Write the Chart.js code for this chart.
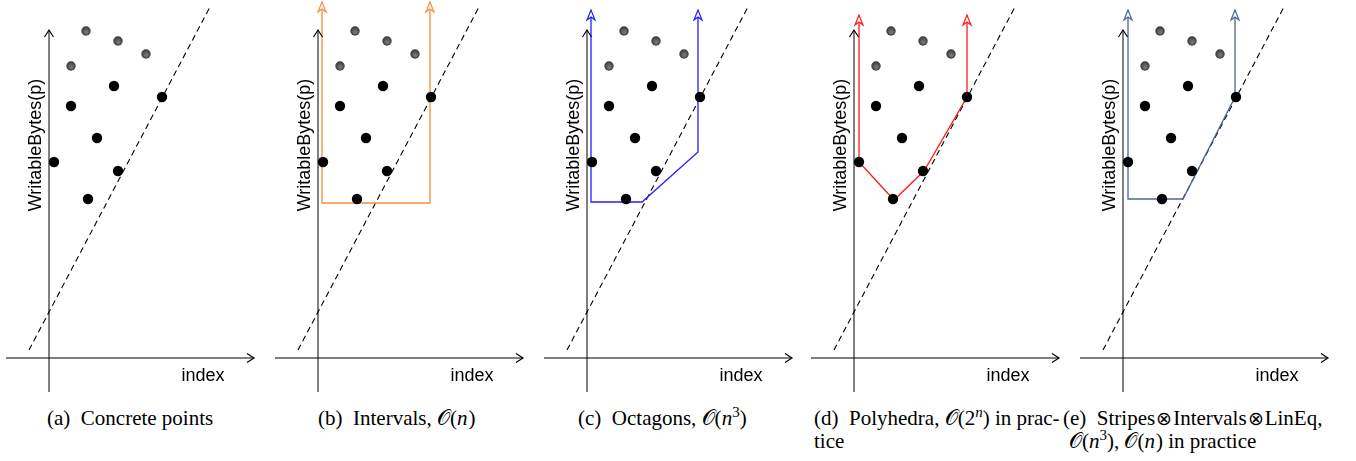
<!DOCTYPE html>
<html>
<head>
<meta charset="utf-8">
<script src="https://cdn.jsdelivr.net/npm/chart.js@4.4.0/dist/chart.umd.min.js"></script>
<style>
  body { margin: 0; background: #fff; width: 1356px; height: 461px; position: relative; overflow: hidden; }
  .panel { position: absolute; top: 0; width: 268px; height: 395px; }
  .cap { position: absolute; font: 21px "Liberation Serif", "Times New Roman", serif; white-space: nowrap; color: #000; line-height: 23px; }
  .cap sup { font-size: 15px; line-height: 0; vertical-align: 8px; }
  .cap .op { font-family: "DejaVu Sans", sans-serif; font-weight: 200; font-size: 19px; margin: 0 1px; }
  .cap .m { margin-right: 1px; }
</style>
</head>
<body>
<div class="panel" style="left:0px"><canvas id="pa"></canvas></div>
<div class="panel" style="left:269px"><canvas id="pb"></canvas></div>
<div class="panel" style="left:538px"><canvas id="pc"></canvas></div>
<div class="panel" style="left:805px"><canvas id="pd"></canvas></div>
<div class="panel" style="left:1074px"><canvas id="pe"></canvas></div>

<div class="cap" style="left:47px; top:407px">(a)&nbsp; Concrete points</div>
<div class="cap" style="left:318px; top:407px">(b)&nbsp; Intervals, 𝒪(<i class="m">n</i>)</div>
<div class="cap" style="left:578px; top:407px">(c)&nbsp; Octagons, 𝒪(<i>n</i><sup>3</sup>)</div>
<div class="cap" style="left:814px; top:407px">(d)&nbsp; Polyhedra, 𝒪(2<sup><i>n</i></sup>) in prac-</div>
<div class="cap" style="left:814px; top:430px">tice</div>
<div class="cap" style="left:1063px; top:407px">(e)&nbsp; Stripes<span class="op">⊗</span>Intervals<span class="op">⊗</span>LinEq,</div>
<div class="cap" style="left:1069px; top:430px">𝒪(<i>n</i><sup>3</sup>), 𝒪(<i class="m">n</i>) in practice</div>

<script>
// concrete points (x = index, y = writable bytes), origin at the axis crossing
const grayX = [37, 69, 97, 22];
const grayY = [327, 317, 304, 292];
const blackX = [65, 113, 22, 48, 5, 69, 39];
const blackY = [272, 261, 252, 220, 196, 187, 159];

// dashed bound line
const boundX = [-20, 162];
const boundY = [8, 353];

// axes
const xAxisX = [-43, 205];
const yAxisY = [-34, 328];

// abstractions
const intervalsX = [4, 4, 112, 112];
const intervalsY = [356, 155, 155, 356];
const octagonX = [4, 4, 55, 111, 111];
const octagonY = [348, 156, 156, 206, 348];
const polyX = [5, 5, 40, 70, 113, 113];
const polyY = [343, 196, 158, 187, 261, 343];
const stripesX = [5, 5, 60, 112, 112];
const stripesY = [348, 159, 159, 261, 348];

const xLabel = 'index';
const yLabel = 'WritableBytes(p)';

function pts(xs, ys) {
    return xs.map((x, i) => ({ x: x, y: ys[i] }));
}

// shaded gray ball used for the upper points
function grayBall() {
    const c = document.createElement('canvas');
    c.width = 10; c.height = 10;
    const g = c.getContext('2d');
    const grad = g.createRadialGradient(5.5, 6.5, 0.5, 5, 5, 5);
    grad.addColorStop(0, '#7a7a7a');
    grad.addColorStop(1, '#333');
    g.fillStyle = grad;
    g.beginPath();
    g.arc(5, 5, 4.7, 0, Math.PI * 2);
    g.fill();
    return c;
}
const ballImg = grayBall();

const arrowPlugin = {
    id: 'arrows',
    afterDatasetsDraw(chart) {
        const ctx = chart.ctx;
        chart.data.datasets.forEach((ds, i) => {
            if (!ds.arrow) return;
            const el = chart.getDatasetMeta(i).data;
            const ends = ds.arrow === 'both' ? [[1, 0], [el.length - 2, el.length - 1]] : [[el.length - 2, el.length - 1]];
            ends.forEach(([a, b]) => {
                const p0 = el[a], p1 = el[b];
                const ang = Math.atan2(p1.y - p0.y, p1.x - p0.x);
                ctx.save();
                ctx.translate(p1.x, p1.y);
                ctx.rotate(ang);
                ctx.strokeStyle = ds.borderColor;
                ctx.lineWidth = 1.2;
                ctx.beginPath();
                if (ds.arrowStyle === 'open') {
                    ctx.moveTo(0, 0);
                    ctx.lineTo(-10, -4);
                    ctx.lineTo(-7, 0);
                    ctx.lineTo(-10, 4);
                    ctx.closePath();
                    ctx.fillStyle = '#fff';
                    ctx.fill();
                } else {
                    ctx.moveTo(-7, -4.5);
                    ctx.lineTo(0, 0);
                    ctx.lineTo(-7, 4.5);
                }
                ctx.stroke();
                ctx.restore();
            });
        });
    }
};

const labelPlugin = {
    id: 'axisLabels',
    afterDraw(chart) {
        const ctx = chart.ctx;
        const sx = chart.scales.x, sy = chart.scales.y;
        ctx.save();
        ctx.fillStyle = '#000';
        ctx.font = '18px "Liberation Sans", Arial, sans-serif';
        ctx.textAlign = 'center';
        ctx.textBaseline = 'middle';
        ctx.fillText(xLabel, sx.getPixelForValue(154), sy.getPixelForValue(-18));
        ctx.translate(sx.getPixelForValue(-12.5), sy.getPixelForValue(213));
        ctx.rotate(-Math.PI / 2);
        ctx.fillText(yLabel, 0, 0);
        ctx.restore();
    }
};

function makeChart(id, shapeX, shapeY, color) {
    const datasets = [
        { data: pts(blackX, blackY), pointRadius: 5.2, pointBackgroundColor: '#000', pointBorderWidth: 0, showLine: false, order: 0 },
        { data: pts(grayX, grayY), pointStyle: ballImg, pointRadius: 5, showLine: false, order: 0 }
    ];
    if (shapeX) {
        datasets.push({ data: pts(shapeX, shapeY), showLine: true, borderColor: color, borderWidth: 1.3, pointRadius: 0, arrow: 'both', arrowStyle: 'open', order: 1 });
    }
    datasets.push(
        { data: pts(boundX, boundY), showLine: true, borderColor: '#000', borderWidth: 1.1, borderDash: [6, 4], pointRadius: 0, order: 2 },
        { data: pts(xAxisX, [0, 0]), showLine: true, borderColor: '#000', borderWidth: 1, pointRadius: 0, arrow: 'end', order: 3 },
        { data: pts([0, 0], yAxisY), showLine: true, borderColor: '#000', borderWidth: 1, pointRadius: 0, arrow: 'end', order: 3 }
    );
    datasets.forEach(d => { d.clip = false; });

    return new Chart(document.getElementById(id), {
        type: 'scatter',
        data: { datasets: datasets },
        options: {
            responsive: true,
            maintainAspectRatio: false,
            animation: false,
            layout: { padding: 0, autoPadding: false },
            plugins: { legend: { display: false }, tooltip: { enabled: false } },
            scales: {
                x: { type: 'linear', display: false, min: -49, max: 219 },
                y: { type: 'linear', display: false, min: -37, max: 358 }
            }
        },
        plugins: [arrowPlugin, labelPlugin]
    });
}

makeChart('pa');
makeChart('pb', intervalsX, intervalsY, '#f0903a');
makeChart('pc', octagonX, octagonY, '#2020ff');
makeChart('pd', polyX, polyY, '#ff1a1a');
makeChart('pe', stripesX, stripesY, '#4a6890');
</script>
</body>
</html>
